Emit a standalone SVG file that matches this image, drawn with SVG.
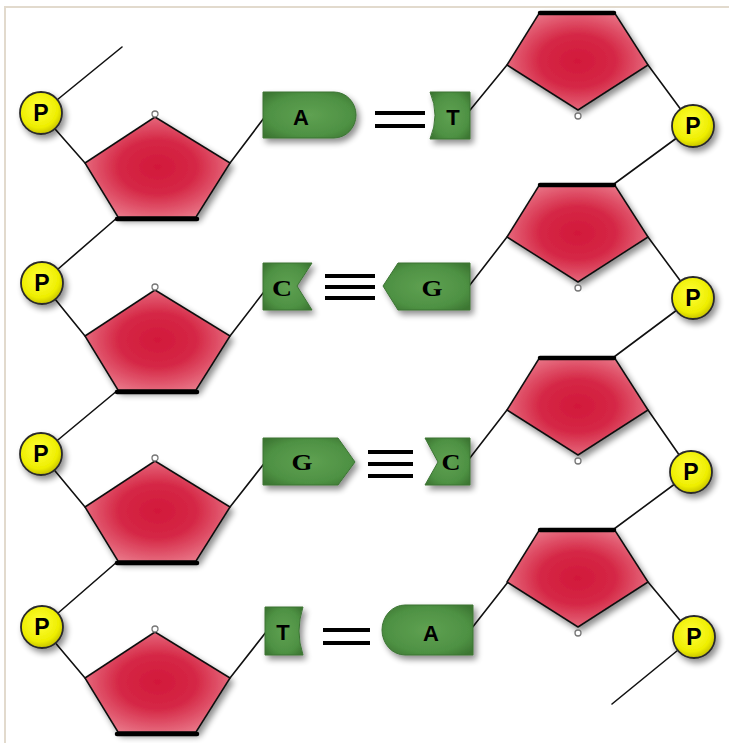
<svg xmlns="http://www.w3.org/2000/svg" width="729" height="743" viewBox="0 0 729 743">
  <defs>
    <radialGradient id="sugarFill" cx="50%" cy="50%" r="60%">
      <stop offset="0" stop-color="#d2183a"/>
      <stop offset="0.45" stop-color="#d52846"/>
      <stop offset="1" stop-color="#ec8392"/>
    </radialGradient>
    <radialGradient id="baseFill" cx="50%" cy="50%" r="65%">
      <stop offset="0" stop-color="#5fa152"/>
      <stop offset="0.7" stop-color="#4e9143"/>
      <stop offset="1" stop-color="#3c7632"/>
    </radialGradient>
    <radialGradient id="phosFill" cx="45%" cy="40%" r="60%">
      <stop offset="0" stop-color="#ffff3a"/>
      <stop offset="0.75" stop-color="#eeee00"/>
      <stop offset="1" stop-color="#c8c400"/>
    </radialGradient>
    <filter id="shadow" x="-30%" y="-30%" width="170%" height="170%">
      <feGaussianBlur in="SourceAlpha" stdDeviation="3"/>
      <feOffset dx="3" dy="4" result="b"/>
      <feComponentTransfer><feFuncA type="linear" slope="0.45"/></feComponentTransfer>
      <feMerge><feMergeNode/><feMergeNode in="SourceGraphic"/></feMerge>
    </filter>
    <!-- deoxyribose ring, point up (left strand) -->
    <path id="sugarUp" d="M0,0 L75,46 L41,100 L-37,100 L-70,46 Z"/>
    <!-- deoxyribose ring, point down (right strand) -->
    <path id="sugarDown" d="M0,0 L74,0 L108,53 L38,98 L-33,53 Z"/>
  </defs>
  <style>
    .bb { stroke: #111; stroke-width: 1.6; fill: none; stroke-linecap: round; }
    .sugar { fill: url(#sugarFill); stroke: #111; stroke-width: 1.5; stroke-linejoin: round; }
    .band { stroke: #000; stroke-width: 4.5; stroke-linecap: round; }
    .ring { fill: #fff; stroke: #777; stroke-width: 1.3; }
    .base { fill: url(#baseFill); stroke: #3c7434; stroke-width: 1; }
    .bond { stroke: #000; stroke-width: 4; }
    .phos { fill: url(#phosFill); stroke: #2a2a2a; stroke-width: 1.8; }
    .ptxt { font-family: "Liberation Sans", Arial, sans-serif; font-weight: bold; font-size: 23px; fill: #000; text-anchor: middle; }
    .sans { font-family: "Liberation Sans", Arial, sans-serif; font-weight: bold; font-size: 22px; fill: #000; text-anchor: middle; }
    .serif { font-family: "Liberation Serif", "Times New Roman", serif; font-weight: bold; font-size: 24px; fill: #000; text-anchor: middle; }
  </style>

  <rect x="0" y="0" width="729" height="743" fill="#fff"/>
  <!-- outer frame -->
  <path d="M5,743 V7 H729" fill="none" stroke="#e2dacd" stroke-width="2"/>

  <!-- sugar-phosphate backbone and sugar-to-base links -->
  <g id="connectors" class="bb">
    <line x1="41" y1="113" x2="122" y2="47"/>
    <line x1="41" y1="113" x2="85" y2="163"/>
    <line x1="118" y1="217" x2="42" y2="283"/>
    <line x1="42" y1="283" x2="85" y2="336"/>
    <line x1="118" y1="390" x2="41" y2="454"/>
    <line x1="41" y1="454" x2="85" y2="507"/>
    <line x1="118" y1="561" x2="42" y2="627"/>
    <line x1="42" y1="627" x2="85" y2="678"/>

    <line x1="648" y1="65" x2="693" y2="126"/>
    <line x1="693" y1="126" x2="614" y2="184"/>
    <line x1="648" y1="237" x2="693" y2="298"/>
    <line x1="693" y1="298" x2="614" y2="357"/>
    <line x1="648" y1="410" x2="691" y2="472"/>
    <line x1="691" y1="472" x2="614" y2="529"/>
    <line x1="648" y1="582" x2="694" y2="637"/>
    <line x1="694" y1="637" x2="612" y2="704"/>

    <line x1="230" y1="163" x2="270" y2="110"/>
    <line x1="230" y1="336" x2="270" y2="284"/>
    <line x1="230" y1="507" x2="270" y2="456"/>
    <line x1="230" y1="678" x2="270" y2="627"/>

    <line x1="466" y1="115" x2="507" y2="65"/>
    <line x1="466" y1="290" x2="507" y2="237"/>
    <line x1="466" y1="463" x2="507" y2="410"/>
    <line x1="468" y1="633" x2="508" y2="582"/>
  </g>

  <!-- left strand sugars -->
  <g id="sugarL1" transform="translate(155,117)">
    <use href="#sugarUp" class="sugar" filter="url(#shadow)"/>
    <line class="band" x1="-38" y1="102" x2="42" y2="102"/>
    <circle class="ring" cx="0" cy="-3" r="3"/>
  </g>
  <g id="sugarL2" transform="translate(155,290)">
    <use href="#sugarUp" class="sugar" filter="url(#shadow)"/>
    <line class="band" x1="-38" y1="102" x2="42" y2="102"/>
    <circle class="ring" cx="0" cy="-3" r="3"/>
  </g>
  <g id="sugarL3" transform="translate(155,461)">
    <use href="#sugarUp" class="sugar" filter="url(#shadow)"/>
    <line class="band" x1="-38" y1="102" x2="42" y2="102"/>
    <circle class="ring" cx="0" cy="-3" r="3"/>
  </g>
  <g id="sugarL4" transform="translate(155,632)">
    <use href="#sugarUp" class="sugar" filter="url(#shadow)"/>
    <line class="band" x1="-38" y1="102" x2="42" y2="102"/>
    <circle class="ring" cx="0" cy="-3" r="3"/>
  </g>

  <!-- right strand sugars -->
  <g id="sugarR1" transform="translate(540,12)">
    <use href="#sugarDown" class="sugar" filter="url(#shadow)"/>
    <line class="band" x1="0" y1="1" x2="74" y2="1"/>
    <circle class="ring" cx="38" cy="104" r="3"/>
  </g>
  <g id="sugarR2" transform="translate(540,184)">
    <use href="#sugarDown" class="sugar" filter="url(#shadow)"/>
    <line class="band" x1="0" y1="1" x2="74" y2="1"/>
    <circle class="ring" cx="38" cy="104" r="3"/>
  </g>
  <g id="sugarR3" transform="translate(540,357)">
    <use href="#sugarDown" class="sugar" filter="url(#shadow)"/>
    <line class="band" x1="0" y1="1" x2="74" y2="1"/>
    <circle class="ring" cx="38" cy="104" r="3"/>
  </g>
  <g id="sugarR4" transform="translate(540,529)">
    <use href="#sugarDown" class="sugar" filter="url(#shadow)"/>
    <line class="band" x1="0" y1="1" x2="74" y2="1"/>
    <circle class="ring" cx="38" cy="104" r="3"/>
  </g>

  <!-- base pair 1: A = T -->
  <g id="baseA1">
    <path class="base" filter="url(#shadow)" d="M263,92 H334 A22,23 0 0 1 334,138 H263 Z"/>
    <text class="sans" x="301" y="125">A</text>
  </g>
  <g id="bondAT1" class="bond">
    <line x1="375" y1="113" x2="425" y2="113"/>
    <line x1="375" y1="126" x2="425" y2="126"/>
  </g>
  <g id="baseT1">
    <path class="base" filter="url(#shadow)" d="M430,92 H470 V139 H430 Q440,115 430,92 Z"/>
    <text class="sans" x="453" y="125">T</text>
  </g>

  <!-- base pair 2: C ≡ G -->
  <g id="baseC2">
    <path class="base" filter="url(#shadow)" d="M263,263 H312 L297,286 L312,310 H263 Z"/>
    <text class="serif" x="282" y="296" textLength="20" lengthAdjust="spacingAndGlyphs">C</text>
  </g>
  <g id="bondCG2" class="bond">
    <line x1="325" y1="276" x2="375" y2="276"/>
    <line x1="325" y1="287" x2="375" y2="287"/>
    <line x1="325" y1="298" x2="375" y2="298"/>
  </g>
  <g id="baseG2">
    <path class="base" filter="url(#shadow)" d="M383,286 L398,263 H470 V310 H398 Z"/>
    <text class="serif" x="432" y="296" textLength="21" lengthAdjust="spacingAndGlyphs">G</text>
  </g>

  <!-- base pair 3: G ≡ C -->
  <g id="baseG3">
    <path class="base" filter="url(#shadow)" d="M263,438 H338 L355,462 L338,485 H263 Z"/>
    <text class="serif" x="302" y="470" textLength="21" lengthAdjust="spacingAndGlyphs">G</text>
  </g>
  <g id="bondGC3" class="bond">
    <line x1="368" y1="452" x2="413" y2="452"/>
    <line x1="368" y1="464" x2="413" y2="464"/>
    <line x1="368" y1="476" x2="413" y2="476"/>
  </g>
  <g id="baseC3">
    <path class="base" filter="url(#shadow)" d="M425,438 H470 V485 H425 L438,462 Z"/>
    <text class="serif" x="451" y="470" textLength="19" lengthAdjust="spacingAndGlyphs">C</text>
  </g>

  <!-- base pair 4: T = A -->
  <g id="baseT4">
    <path class="base" filter="url(#shadow)" d="M265,607 H303 Q295,631 303,655 H265 Z"/>
    <text class="sans" x="283" y="640">T</text>
  </g>
  <g id="bondTA4" class="bond">
    <line x1="323" y1="630" x2="370" y2="630"/>
    <line x1="323" y1="643" x2="370" y2="643"/>
  </g>
  <g id="baseA4">
    <path class="base" filter="url(#shadow)" d="M405,605 H473 V655 H405 A23,25 0 0 1 405,605 Z"/>
    <text class="sans" x="431" y="641">A</text>
  </g>

  <!-- phosphate groups, left strand -->
  <g id="phosL1"><circle class="phos" cx="41" cy="113" r="21" filter="url(#shadow)"/><text class="ptxt" x="41" y="121">P</text></g>
  <g id="phosL2"><circle class="phos" cx="42" cy="283" r="21" filter="url(#shadow)"/><text class="ptxt" x="42" y="291">P</text></g>
  <g id="phosL3"><circle class="phos" cx="41" cy="454" r="21" filter="url(#shadow)"/><text class="ptxt" x="41" y="462">P</text></g>
  <g id="phosL4"><circle class="phos" cx="42" cy="627" r="21" filter="url(#shadow)"/><text class="ptxt" x="42" y="635">P</text></g>

  <!-- phosphate groups, right strand -->
  <g id="phosR1"><circle class="phos" cx="693" cy="126" r="21" filter="url(#shadow)"/><text class="ptxt" x="693" y="134">P</text></g>
  <g id="phosR2"><circle class="phos" cx="693" cy="298" r="21" filter="url(#shadow)"/><text class="ptxt" x="693" y="306">P</text></g>
  <g id="phosR3"><circle class="phos" cx="691" cy="472" r="21" filter="url(#shadow)"/><text class="ptxt" x="691" y="480">P</text></g>
  <g id="phosR4"><circle class="phos" cx="694" cy="637" r="21" filter="url(#shadow)"/><text class="ptxt" x="694" y="645">P</text></g>
</svg>
